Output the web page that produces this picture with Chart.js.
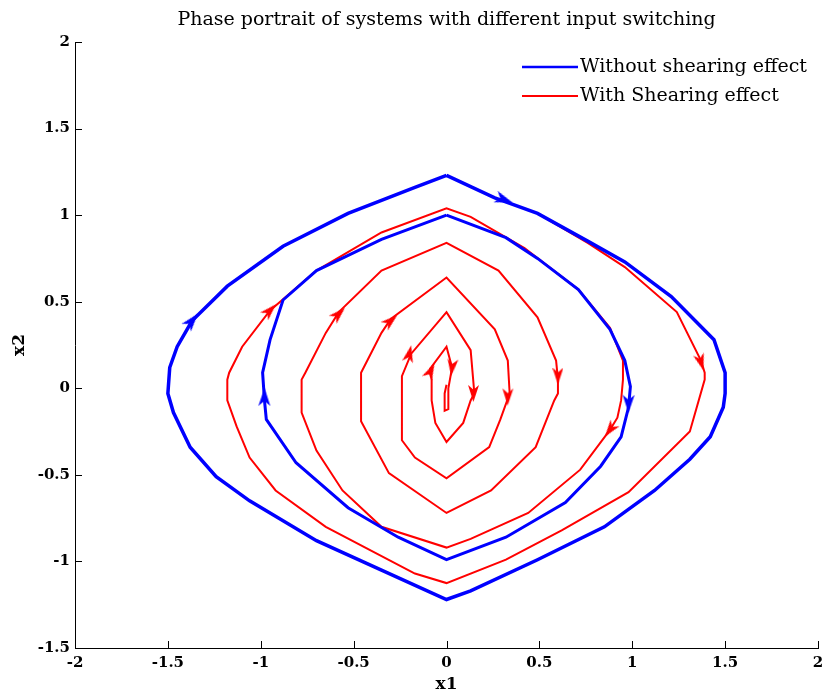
<!DOCTYPE html>
<html>
<head>
<meta charset="utf-8">
<script src="https://cdn.jsdelivr.net/npm/chart.js@4.4.1/dist/chart.umd.min.js"></script>
<style>
  html, body { margin: 0; padding: 0; background: #fff; }
</style>
</head>
<body>
<canvas id="phase" width="823" height="693"></canvas>
<script>
/* trajectories, [x1, x2] */
const blueOuter = [
  [0, 1.23], [0.26, 1.10], [0.49, 1.01], [0.76, 0.85], [0.96, 0.73], [1.21, 0.53],
  [1.44, 0.28], [1.50, 0.09], [1.50, -0.03], [1.49, -0.11], [1.42, -0.28], [1.31, -0.41],
  [1.12, -0.59], [0.85, -0.80], [0.49, -0.99], [0.13, -1.17], [0, -1.22], [-0.35, -1.05],
  [-0.70, -0.88], [-1.06, -0.65], [-1.24, -0.51], [-1.38, -0.34], [-1.47, -0.14], [-1.50, -0.03],
  [-1.49, 0.12], [-1.45, 0.24], [-1.37, 0.39], [-1.18, 0.59], [-0.88, 0.82], [-0.53, 1.01],
  [-0.17, 1.16], [0, 1.23]
];
const blueInner = [
  [0, 1.00], [0.32, 0.87], [0.49, 0.75], [0.71, 0.57], [0.88, 0.34], [0.96, 0.16],
  [0.99, 0.01], [0.98, -0.11], [0.94, -0.28], [0.83, -0.45], [0.64, -0.66], [0.32, -0.86],
  [0, -0.99], [-0.26, -0.86], [-0.53, -0.69], [-0.81, -0.43], [-0.97, -0.18], [-0.98, -0.07],
  [-0.99, 0.09], [-0.95, 0.28], [-0.88, 0.51], [-0.70, 0.68], [-0.35, 0.86], [0, 1.00]
];
const redSpiral = [
  [0.49, 1.01], [0.76, 0.84], [0.96, 0.70], [1.24, 0.44], [1.37, 0.16], [1.39, 0.09], [1.39, 0.05],
  [1.31, -0.25], [0.98, -0.60], [0.62, -0.82], [0.32, -0.99], [0, -1.125],
  [-0.17, -1.07], [-0.65, -0.80], [-0.92, -0.59], [-1.06, -0.40], [-1.13, -0.22], [-1.18, -0.07],
  [-1.18, 0.05], [-1.17, 0.09], [-1.10, 0.24], [-0.95, 0.45], [-0.70, 0.68], [-0.35, 0.90], [0, 1.04],
  [0.13, 0.99], [0.42, 0.81], [0.71, 0.57], [0.88, 0.35], [0.95, 0.16], [0.95, 0.05], [0.94, -0.07],
  [0.92, -0.17], [0.88, -0.24], [0.72, -0.47], [0.44, -0.72], [0.13, -0.87], [0, -0.92],
  [-0.35, -0.80], [-0.56, -0.59], [-0.70, -0.36], [-0.78, -0.14], [-0.78, 0.05], [-0.76, 0.09],
  [-0.65, 0.32], [-0.58, 0.44], [-0.35, 0.68], [0, 0.84],
  [0.28, 0.68], [0.49, 0.41], [0.59, 0.16], [0.60, 0.05], [0.60, -0.03], [0.58, -0.07],
  [0.48, -0.34], [0.24, -0.59], [0, -0.72],
  [-0.31, -0.49], [-0.46, -0.19], [-0.46, 0.05], [-0.46, 0.09], [-0.35, 0.32], [-0.30, 0.40], [0, 0.64],
  [0.26, 0.34], [0.33, 0.16], [0.34, -0.03], [0.29, -0.18], [0.23, -0.34], [0, -0.52],
  [-0.17, -0.40], [-0.24, -0.30], [-0.24, -0.14], [-0.24, 0.07], [-0.19, 0.20], [0, 0.44],
  [0.13, 0.22], [0.15, -0.03], [0.13, -0.07], [0.09, -0.20], [0, -0.31],
  [-0.06, -0.20], [-0.08, -0.07], [-0.08, 0.05], [-0.09, 0.11], [0, 0.24],
  [0.03, 0.12], [0.01, 0.00], [0.01, -0.12], [-0.01, -0.13], [-0.01, -0.03], [0, 0.02]
];

/* arrow heads: [x1, x2, dx1, dx2] (position and direction of travel) */
const blueArrows = [
  [0.31, 1.09, 1, -0.38], [-1.37, 0.39, 0.27, 0.35],
  [-0.98, -0.05, 0.01, 1], [0.98, -0.09, -0.01, -1]
];
const redArrows = [
  [-0.95, 0.45, 0.4, 0.44], [1.37, 0.15, 0.1, -0.35], [0.88, -0.24, -0.16, -0.23],
  [-0.58, 0.43, 0.23, 0.24], [0.60, 0.07, 0, -1], [-0.30, 0.39, 0.35, 0.32],
  [0.33, -0.05, -0.01, -1], [-0.20, 0.20, 0.05, 0.24], [0.145, -0.03, -0.01, -1],
  [-0.085, 0.10, 0.06, 0.13], [0.03, 0.12, -0.01, -0.1]
];

const seriesNames = ['Without shearing effect', 'With Shearing effect'];
const BLUE = '#0000ff', RED = '#ff0000';
const FONT = 'DejaVu Serif';

const toPts = arr => arr.map(p => ({ x: p[0], y: p[1] }));

// notched arrowhead, pointing up; Chart.js rotates it per point
function makeArrow(color, len, wid){
  const c = document.createElement('canvas');
  c.width = wid; c.height = len;
  const g = c.getContext('2d');
  g.fillStyle = color;
  g.beginPath();
  g.moveTo(wid/2, 0);
  g.lineTo(wid, len);
  g.lineTo(wid/2, len*0.72);
  g.lineTo(0, len);
  g.closePath();
  g.fill();
  return c;
}

function arrowRotation(list){
  return ctx => {
    const a = list[ctx.dataIndex];
    if (!a) return 0;
    const sx = ctx.chart.scales.x, sy = ctx.chart.scales.y;
    const px = sx.getPixelForValue(a[0] + a[2]*0.1) - sx.getPixelForValue(a[0]);
    const py = sy.getPixelForValue(a[1] + a[3]*0.1) - sy.getPixelForValue(a[1]);
    return Math.atan2(px, -py) * 180 / Math.PI;
  };
}

/* matlab style: tick marks point into the plot */
const innerTicks = {
  id: 'innerTicks',
  afterDraw(chart){
    const { ctx, chartArea: a, scales } = chart;
    const len = 7;
    ctx.save();
    ctx.strokeStyle = '#000';
    ctx.lineWidth = 1;
    ctx.beginPath();
    scales.x.ticks.forEach(t => {
      const px = Math.round(scales.x.getPixelForValue(t.value)) + 0.5;
      ctx.moveTo(px, a.bottom); ctx.lineTo(px, a.bottom - len);
    });
    scales.y.ticks.forEach(t => {
      const py = Math.round(scales.y.getPixelForValue(t.value)) + 0.5;
      ctx.moveTo(a.left, py); ctx.lineTo(a.left + len, py);
    });
    ctx.stroke();
    ctx.restore();
  }
};

/* legend drawn inside the plot, like the original */
const insideLegend = {
  id: 'insideLegend',
  afterDraw(chart){
    const { ctx } = chart;
    const rows = [
      { text: seriesNames[0], color: BLUE, w: 2.5, y: 67 },
      { text: seriesNames[1], color: RED, w: 2, y: 96 }
    ];
    ctx.save();
    ctx.font = `19px "${FONT}"`;
    ctx.textBaseline = 'middle';
    ctx.fillStyle = '#000';
    rows.forEach(r => {
      ctx.strokeStyle = r.color;
      ctx.lineWidth = r.w;
      ctx.beginPath();
      ctx.moveTo(522, r.y); ctx.lineTo(578, r.y);
      ctx.stroke();
      ctx.fillText(r.text, 580, r.y);
    });
    ctx.restore();
  }
};

const tickFont = { family: FONT, weight: 'bold', size: 15 };
const tickLabel = v => String(+v.toFixed(2));

new Chart(document.getElementById('phase'), {
  type: 'scatter',
  data: {
    datasets: [
      { label: 'blue arrows', data: toPts(blueArrows), pointStyle: makeArrow(BLUE, 18, 12),
        pointRotation: arrowRotation(blueArrows), order: 0 },
      { label: 'red arrows', data: toPts(redArrows), pointStyle: makeArrow(RED, 17, 11),
        pointRotation: arrowRotation(redArrows), order: 0 },
      { label: seriesNames[0], data: toPts(blueOuter), showLine: true, borderColor: BLUE,
        borderWidth: 3.5, pointRadius: 0, order: 1 },
      { label: seriesNames[0], data: toPts(blueInner), showLine: true, borderColor: BLUE,
        borderWidth: 3, pointRadius: 0, order: 1 },
      { label: seriesNames[1], data: toPts(redSpiral), showLine: true, borderColor: RED,
        borderWidth: 2, pointRadius: 0, order: 2 }
    ]
  },
  options: {
    responsive: false,
    animation: false,
    events: [],
    layout: { padding: { left: 0, right: 2, top: 0, bottom: 0 } },
    plugins: {
      legend: { display: false },
      tooltip: { enabled: false },
      title: {
        display: true,
        fullSize: false,
        text: 'Phase portrait of systems with different input switching',
        color: '#000',
        font: { family: FONT, size: 19, weight: 'normal', lineHeight: 1.2 },
        padding: { top: 9, bottom: 10.2 }
      }
    },
    scales: {
      x: {
        type: 'linear', min: -2, max: 2,
        ticks: { stepSize: 0.5, color: '#000', font: tickFont, padding: 6, maxRotation: 0, callback: tickLabel },
        grid: { display: false, drawTicks: false },
        border: { color: '#000', width: 1 },
        title: { display: true, text: 'x1', color: '#000',
                 font: { family: FONT, weight: 'bold', size: 17, lineHeight: 1 }, padding: 0 },
        afterFit: s => { s.height = 45; s.paddingLeft = 0; s.paddingRight = 0; }
      },
      y: {
        type: 'linear', min: -1.5, max: 2,
        ticks: { stepSize: 0.5, color: '#000', font: tickFont, padding: 5, callback: tickLabel },
        grid: { display: false, drawTicks: false },
        border: { color: '#000', width: 1 },
        title: { display: true, text: 'x2', color: '#000',
                 font: { family: FONT, weight: 'bold', size: 17, lineHeight: 1 },
                 padding: { top: 11.5, bottom: 0 } },
        afterFit: s => { s.width = 75; s.paddingTop = 0; s.paddingBottom = 0; }
      }
    }
  },
  plugins: [innerTicks, insideLegend]
});
</script>
</body>
</html>
